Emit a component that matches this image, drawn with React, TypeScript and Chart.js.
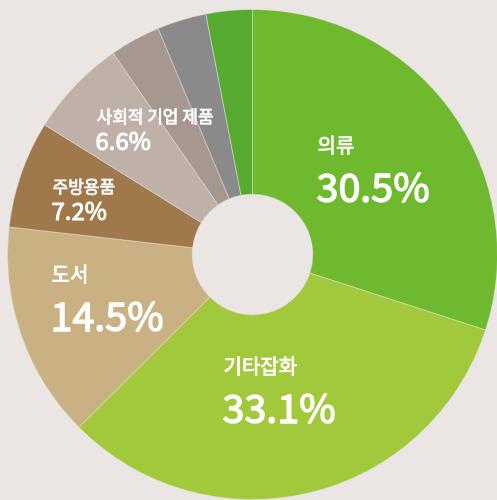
import React, { useEffect, useRef } from "react";
import { Chart, registerables } from "chart.js";

Chart.register(...registerables);

const categories = ["의류", "기타잡화", "도서", "주방용품", "사회적 기업 제품", "기타1", "기타2", "기타3"];
const values = [30.5, 33.1, 14.5, 7.2, 6.6, 3.4, 3.3, 3.1];
const percentLabels = ["30.5%", "33.1%", "14.5%", "7.2%", "6.6%", "", "", ""];
const colors = ["#6eb92e", "#a2c93c", "#c9b183", "#9f784c", "#bfb1aa", "#a69890", "#8a8a8a", "#56aa30"];

// label layout: offset from chart centre (left x, baseline y), font sizes
const labelLayout = [
  { dx: 65, dy: -102, nameSize: 20, pctSize: 39.5, gap: 49 },
  { dx: -29, dy: 119, nameSize: 20, pctSize: 39.5, gap: 49 },
  { dx: -201, dy: 27, nameSize: 20, pctSize: 39.5, gap: 49 },
  { dx: -200, dy: -62, nameSize: 17, pctSize: 24, gap: 27 },
  { dx: -156, dy: -132, nameSize: 17, pctSize: 24, gap: 27.5 },
];

const BG = "#ebe6e4";
const FONT = '"Noto Sans CJK KR", "Noto Sans", sans-serif';

const labelPlugin = {
  id: "sliceLabels",
  afterDatasetsDraw(chart: any) {
    const ctx = chart.ctx;
    const meta = chart.getDatasetMeta(0);
    const arc = meta.data[0];
    const cx = arc.x;
    const cy = arc.y;
    ctx.save();
    ctx.fillStyle = "#ffffff";
    ctx.strokeStyle = "#ffffff";
    ctx.lineJoin = "round";
    ctx.textAlign = "left";
    ctx.textBaseline = "alphabetic";
    labelLayout.forEach((l, i) => {
      ctx.font = `${l.nameSize}px ${FONT}`;
      ctx.lineWidth = 0.7;
      ctx.fillText(categories[i], cx + l.dx, cy + l.dy);
      ctx.strokeText(categories[i], cx + l.dx, cy + l.dy);
      ctx.font = `${l.pctSize}px ${FONT}`;
      ctx.lineWidth = l.pctSize > 30 ? 1.3 : 0.9;
      ctx.fillText(percentLabels[i], cx + l.dx - 1, cy + l.dy + l.gap);
      ctx.strokeText(percentLabels[i], cx + l.dx - 1, cy + l.dy + l.gap);
    });
    ctx.restore();
  },
};

export default function App() {
  const ref = useRef<HTMLCanvasElement | null>(null);
  useEffect(() => {
    if (!ref.current) return;
    const chart = new Chart(ref.current, {
      type: "doughnut",
      data: {
        labels: categories,
        datasets: [
          {
            data: values,
            backgroundColor: colors,
            borderColor: "rgba(235,230,228,0.45)",
            borderWidth: 1,
          },
        ],
      },
      options: {
        responsive: false,
        animation: false,
        cutout: "24.6%",
        layout: { padding: 0 },
        plugins: {
          legend: { display: false },
          tooltip: { enabled: false },
        },
      },
      plugins: [labelPlugin],
    });
    return () => chart.destroy();
  }, []);
  return (
    <div style={{ position: "fixed", inset: 0, background: BG, overflow: "hidden" }}>
      <canvas
        ref={ref}
        width={491}
        height={491}
        style={{ position: "absolute", left: 7, top: 9, width: 491, height: 491 }}
      />
    </div>
  );
}
